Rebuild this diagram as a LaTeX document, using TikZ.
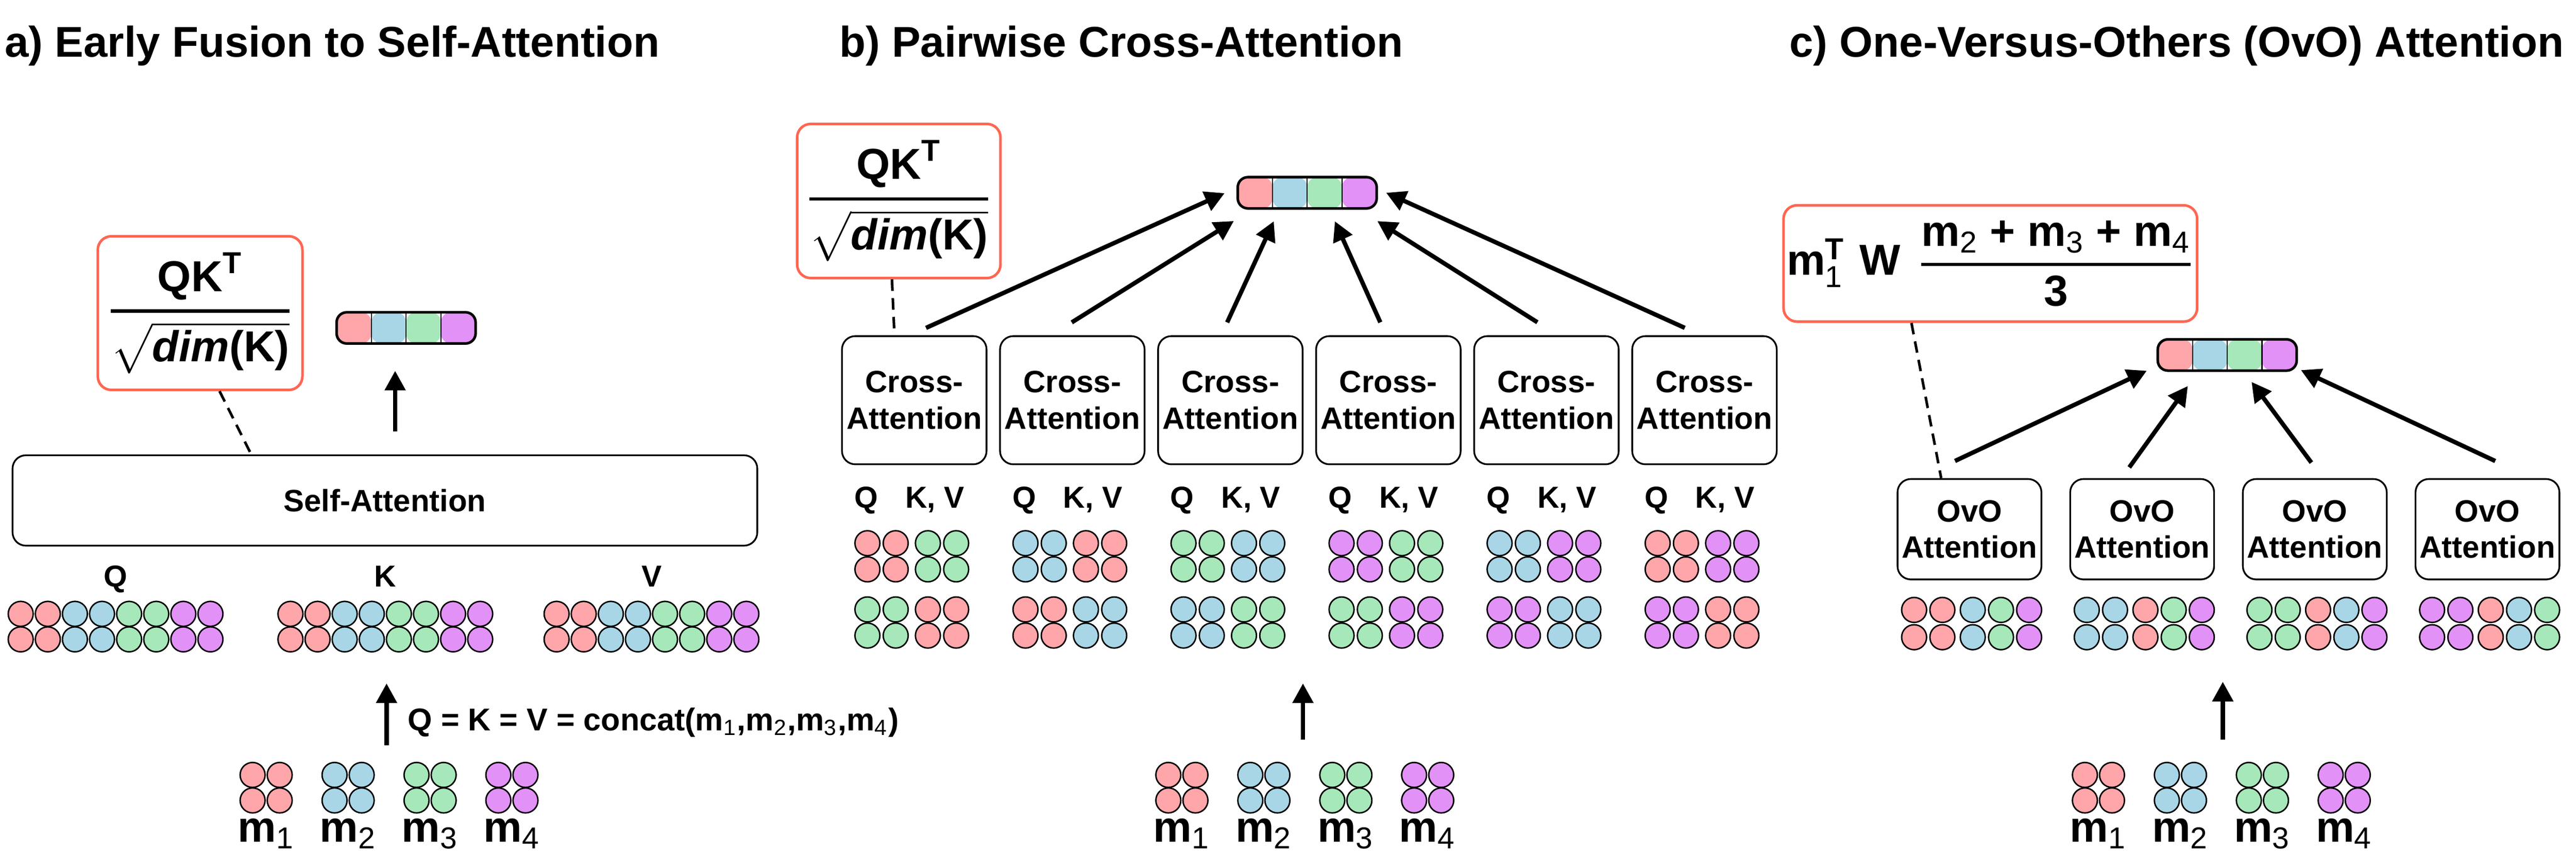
\documentclass[tikz,border=0pt]{standalone}
\usepackage{amsmath}
\usepackage{fontspec}
\setmainfont{Liberation Sans}
\usetikzlibrary{arrows.meta}

\definecolor{pinkm}{RGB}{255,166,170}
\definecolor{bluem}{RGB}{168,214,230}
\definecolor{greenm}{RGB}{166,232,185}
\definecolor{violetm}{RGB}{226,146,246}
\definecolor{formred}{RGB}{255,102,82}

\newcommand{\modsub}[1]{m\textsubscript{\mdseries #1}}
\newcommand{\scorefrac}{$\genfrac{}{}{1.1pt}{0}{\text{QK}^{\text{T}}}{\sqrt{\text{\itshape dim}\text{(K)}}}$}

\begin{document}
\begin{tikzpicture}[x=0.02cm, y=-0.02cm,
  title/.style={anchor=base west, inner sep=0, font=\bfseries\fontsize{14.9}{18}\selectfont},
  attn/.style={draw, line width=0.6pt, rounded corners=4.6pt, align=center, inner sep=0,
    font=\bfseries\fontsize{10.7}{12.6}\selectfont},
  formula/.style={draw=formred, line width=0.9pt, rounded corners=4.7pt, inner sep=0,
    font=\bfseries\fontsize{15}{18}\selectfont},
  outbar/.style={draw, line width=0.9pt, rounded corners=3.5pt, inner sep=0,
    minimum width=1.692cm, minimum height=0.38cm,
    path picture={
      \foreach \c [count=\i from 0] in {pinkm,bluem,greenm,violetm}
        \fill[\c] ([xshift={\i*4.23mm}]path picture bounding box.south west)
          rectangle ([xshift={\i*4.23mm+4.23mm}]path picture bounding box.north west);
      \foreach \i in {1,2,3}
        \draw[line width=0.4pt] ([xshift={\i*4.23mm}]path picture bounding box.south west)
          -- ([xshift={\i*4.23mm}]path picture bounding box.north west);
    }},
  dot/.style={draw, line width=0.5pt},
  lbl/.style={anchor=base, inner sep=0, font=\bfseries\fontsize{10.5}{12}\selectfont},
  mlbl/.style={anchor=base, inner sep=0, font=\bfseries\fontsize{15}{18}\selectfont},
  arr/.style={-{Triangle[length=6.8pt,width=7pt]}, line width=1.5pt},
  link/.style={dash pattern=on 4pt off 2.5pt, line width=0.9pt}]
\useasboundingbox (0,0) rectangle (1568,518.1);

\node [title] (titleA) at (2.6,34.7)    {a) Early Fusion to Self-Attention};
\node [title] (titleB) at (510.6,34.7)  {b) Pairwise Cross-Attention};
\node [title] (titleC) at (1088.9,34.7) {c) One-Versus-Others (OvO) Attention};

% a) early fusion
\node [formula, minimum width=2.492cm, minimum height=1.87cm] (scoreA) at (121.8,190.5) {\scorefrac};
\node [outbar] (outA) at (247.2,199.5) {};
\node [attn, minimum width=9.068cm, minimum height=1.1cm] (selfatt) at (234.3,304.5) {Self-Attention};
\node [lbl] (qA) at (70.4,357)  {Q};
\node [lbl] (kA) at (234.6,357) {K};
\node [lbl] (vA) at (396.6,357) {V};
\foreach \gx in {12.6,176.8,338.8}
  \foreach \c [count=\j from 0] in {pinkm,pinkm,bluem,bluem,greenm,greenm,violetm,violetm}
    \foreach \gy in {373.5,389}
      \draw [dot, fill=\c] (\gx+16.5*\j,\gy) circle [radius=7.6];

\draw [arr, shorten <=8pt, shorten >=9pt] (outA.237 |- selfatt.north) -- (outA.237);
\draw [link] (scoreA.284) -- (selfatt.161);

\coordinate (inA)  at (235.3,453.5);
\coordinate (qkvA) at (235.3,415.8);
\draw [arr] (inA) -- (qkvA);
\node [anchor=base west, inner sep=0, font=\bfseries\fontsize{10.9}{13}\selectfont] (concat) at (247.9,444.5)
  {Q = K = V = concat(\modsub{1},\modsub{2},\modsub{3},\modsub{4})};

% inputs m1..m4, one set per panel
\foreach \px/\pn in {0/A,557.4/B,1115.3/C}
  \foreach \gx/\c [count=\i] in {162/pinkm,211.9/bluem,261.8/greenm,311.6/violetm} {
    \foreach \ox in {-8.25,8.25}
      \foreach \gy in {471.5,487}
        \draw [dot, fill=\c] (\px+\gx+\ox,\gy) circle [radius=7.6];
    \node [mlbl] (m\pn\i) at (\px+\gx,512.3) {\modsub{\i}};
  }

% b) pairwise cross-attention
\node [formula, minimum width=2.476cm, minimum height=1.876cm] (scoreB) at (547.1,122.3) {\scorefrac};
\node [outbar] (outB) at (795.7,117.3) {};
\foreach \k in {1,...,6} {
  \node [attn, minimum width=1.76cm, minimum height=1.56cm] (cross\k) at (556.5+96.2*\k-96.2,243.5) {Cross-\\Attention};
  \node [lbl] (qkv\k) at (553.5+96.2*\k-96.2,309) {Q\hspace{0.9em}K, V};
}
\foreach \k/\p/\q in {1/pinkm/greenm,2/bluem/pinkm,3/greenm/bluem,4/violetm/greenm,5/bluem/violetm,6/pinkm/violetm} {
  \pgfmathsetmacro\bx{555+96.2*(\k-1)}
  \foreach \o in {-27,-9.8} \foreach \gy in {330.5,346.4} \draw [dot, fill=\p] (\bx+\o,\gy) circle [radius=7.6];
  \foreach \o in {9.8,27}   \foreach \gy in {330.5,346.4} \draw [dot, fill=\q] (\bx+\o,\gy) circle [radius=7.6];
  \foreach \o in {-27,-9.8} \foreach \gy in {370.8,386.7} \draw [dot, fill=\q] (\bx+\o,\gy) circle [radius=7.6];
  \foreach \o in {9.8,27}   \foreach \gy in {370.8,386.7} \draw [dot, fill=\p] (\bx+\o,\gy) circle [radius=7.6];
}

\draw [arr, shorten <=6.2pt, shorten >=4.5pt] (cross1.94) -- (outB.176);
\draw [arr, shorten <=8.4pt, shorten >=7.4pt] (cross2.108) -- (outB.197);
\draw [arr, shorten <=4.9pt, shorten >=4.4pt] (cross3.98) -- (outB.211);
\draw [arr, shorten <=4.9pt, shorten >=4.4pt] (cross4.92) -- (outB.323);
\draw [arr, shorten <=8.4pt, shorten >=7.4pt] (cross5.80) -- (outB.342);
\draw [arr, shorten <=6.2pt, shorten >=3.1pt] (cross6.93) -- (outB.3);
\draw [link] (scoreB.265) -- (cross1.107);

\coordinate (inB)  at (793.1,450.1);
\coordinate (qkvB) at (793.1,415.8);
\draw [arr] (inB) -- (qkvB);

% c) one-versus-others
\node [formula, minimum width=5.036cm, minimum height=1.416cm] (scoreC) at (1211.5,160.3)
  {$\text{m}^{\text{T}}_{\text{\mdseries 1}}\hspace{5pt}\text{W}\hspace{6pt}\genfrac{}{}{1.1pt}{0}{\text{\modsub{2} + \modsub{3} + \modsub{4}}}{\text{3}}$};
\node [outbar] (outC) at (1355.7,216) {};
\foreach \k in {1,...,4}
  \node [attn, minimum width=1.752cm, minimum height=1.222cm] (ovo\k) at (1198.8+105.1*\k-105.1,322) {OvO\\Attention};
\foreach \k/\ca/\cb/\cc/\cd in {1/pinkm/bluem/greenm/violetm,2/bluem/pinkm/greenm/violetm,3/greenm/pinkm/bluem/violetm,4/violetm/pinkm/bluem/greenm} {
  \pgfmathsetmacro\bx{1198.8+105.1*(\k-1)}
  \foreach \o/\cl in {-33.7/\ca,-16.5/\ca,2/\cb,19.2/\cc,36.3/\cd}
    \foreach \gy in {371.1,387.7}
      \draw [dot, fill=\cl] (\bx+\o,\gy) circle [radius=7.6];
}

\draw [arr, shorten <=14pt, shorten >=3.7pt]  (ovo1.135) -- (outC.189);
\draw [arr, shorten <=4.6pt, shorten >=6pt]   (ovo2.112) -- (outC.210);
\draw [arr, shorten <=6.7pt, shorten >=4.3pt] (ovo3.81)  -- (outC.315);
\draw [arr, shorten <=14pt, shorten >=1.1pt]  (ovo4.49)  -- (outC.349);
\draw [link] (scoreC.217) -- (ovo1.119);

\coordinate (inC)  at (1353,450.1);
\coordinate (qkvC) at (1353,414.8);
\draw [arr] (inC) -- (qkvC);
\end{tikzpicture}
\end{document}
